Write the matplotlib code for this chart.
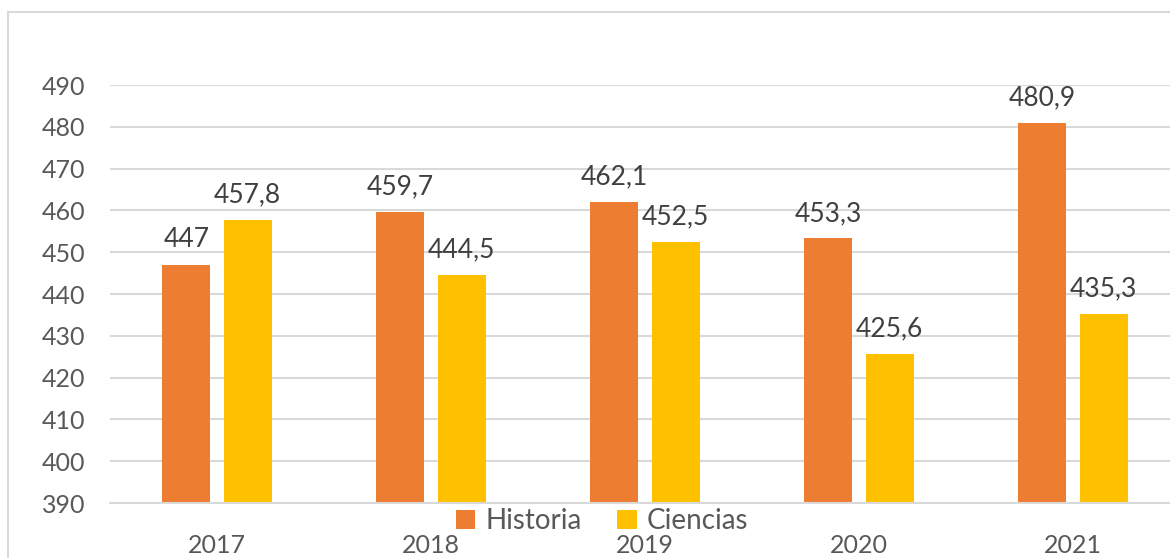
import matplotlib.pyplot as plt
from matplotlib.patches import Rectangle
import numpy as np

years = ["2017", "2018", "2019", "2020", "2021"]
historia = [447, 459.7, 462.1, 453.3, 480.9]
ciencias = [457.8, 444.5, 452.5, 425.6, 435.3]

plt.rcParams['font.family'] = ['Lato', 'DejaVu Sans']

fig = plt.figure(figsize=(11.7, 5.58), dpi=100)
# marco del gráfico (recortado a la derecha y abajo)
fig.patches.append(Rectangle((8 / 1170, -0.05), 1.1, 1 - 12 / 558 + 0.05,
                             transform=fig.transFigure, fill=False,
                             edgecolor="#d9d9d9", linewidth=1.5))

ax = fig.add_axes([110 / 1170, 55 / 558, 1070 / 1170, 418 / 558])
x = np.arange(len(years))
w = 0.225
off = 0.143
b1 = ax.bar(x - off, historia, w, color="#ED7D31", label="Historia", zorder=2)
b2 = ax.bar(x + off, ciencias, w, color="#FFC000", label="Ciencias", zorder=2)

def fmt(v):
    s = ("%g" % v).replace(".", ",")
    return s

for bars, vals in [(b1, historia), (b2, ciencias)]:
    for rect, v in zip(bars, vals):
        ax.annotate(fmt(v), (rect.get_x() + rect.get_width() / 2, v),
                    xytext=(0, 9), textcoords="offset points",
                    ha="center", va="bottom", fontsize=19, color="#404040")

ax.set_ylim(390, 490)
ax.set_xlim(-0.5, 4.5)
ax.set_yticks(range(390, 491, 10))
ax.set_xticks(x)
ax.set_xticklabels(years)
ax.yaxis.grid(True, color="#d9d9d9", linewidth=1.5, zorder=0)
ax.set_axisbelow(True)
for s in ["top", "right", "left"]:
    ax.spines[s].set_visible(False)
ax.spines["bottom"].set_color("#d9d9d9")
ax.spines["bottom"].set_linewidth(1.5)
ax.tick_params(axis="both", length=0, labelsize=18, labelcolor="#595959")
ax.tick_params(axis="y", pad=18)
ax.tick_params(axis="x", pad=22)

fig.legend(loc="center", bbox_to_anchor=(602 / 1170, 1 - 521 / 558), ncol=2,
           frameon=False, fontsize=20, labelcolor="#595959",
           handlelength=0.7, handleheight=0.7, handletextpad=0.35,
           columnspacing=1.3)

fig.savefig("out.png", dpi=100)
